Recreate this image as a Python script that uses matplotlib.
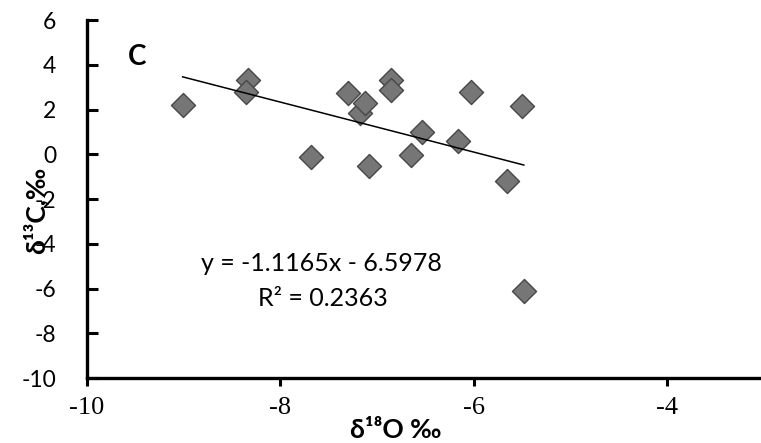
import numpy as np
import matplotlib.pyplot as plt

# d18O / d13C values (panel C)
d18o = [-9.01, -8.33, -8.35, -7.68, -7.30, -7.18, -7.12, -7.08, -6.85, -6.85,
        -6.65, -6.53, -6.16, -6.03, -5.65, -5.50, -5.48]
d13c = [2.22, 3.30, 2.80, -0.12, 2.74, 1.84, 2.29, -0.54, 3.33, 2.89,
        -0.02, 0.98, 0.61, 2.78, -1.20, 2.14, -6.12]

slope = -1.1165
intercept = -6.5978
r2 = 0.2363

x_ticks = [-10, -8, -6, -4]
y_ticks = [6, 4, 2, 0, -2, -4, -6, -8, -10]

fam = ['Lato', 'DejaVu Sans']
plt.rcParams['font.family'] = fam

fig = plt.figure(figsize=(7.61, 4.43), dpi=100)
ax = fig.add_axes([0.1143, 0.1467, 0.889, 0.808])

ax.scatter(d18o, d13c, marker='D', s=150, facecolor='#767676',
           edgecolor='#474747', linewidth=1, zorder=3)

# trend line over the data range
xl = np.array([min(d18o), max(d18o)])
ax.plot(xl, slope * xl + intercept, color='black', lw=1.1, zorder=4)

ax.set_xlim(-10, -3)
ax.set_ylim(-10, 6)
ax.set_xticks(x_ticks)
ax.set_yticks(y_ticks)
ax.set_xticklabels([str(v) for v in x_ticks], fontsize=19, family=['Liberation Serif'])
ax.set_yticklabels([str(v) for v in y_ticks], fontsize=16.5)

for s in ['top', 'right']:
    ax.spines[s].set_visible(False)
for s in ['left', 'bottom']:
    ax.spines[s].set_linewidth(2.4)
ax.tick_params(axis='y', direction='in', length=8, width=2.2, pad=22)
ax.tick_params(axis='x', direction='out', length=6, width=2.2, pad=8)

ax.text(-9.48, 4.35, 'C', fontsize=20, fontweight='bold', ha='center', va='center')
ax.text(-7.57, -4.88, 'y = -1.1165x - 6.5978', fontsize=18, ha='center', va='center')
ax.text(-7.56, -6.45, 'R² = {:.4f}'.format(r2), fontsize=18, ha='center', va='center')

fig.text(0.046, 0.525, 'δ¹³C,‰', rotation=90, fontsize=19, fontweight='bold',
         ha='center', va='center')
fig.text(0.52, 0.03, 'δ¹⁸O ‰', fontsize=19, fontweight='bold',
         ha='center', va='center')

fig.savefig('out.png', dpi=100)
